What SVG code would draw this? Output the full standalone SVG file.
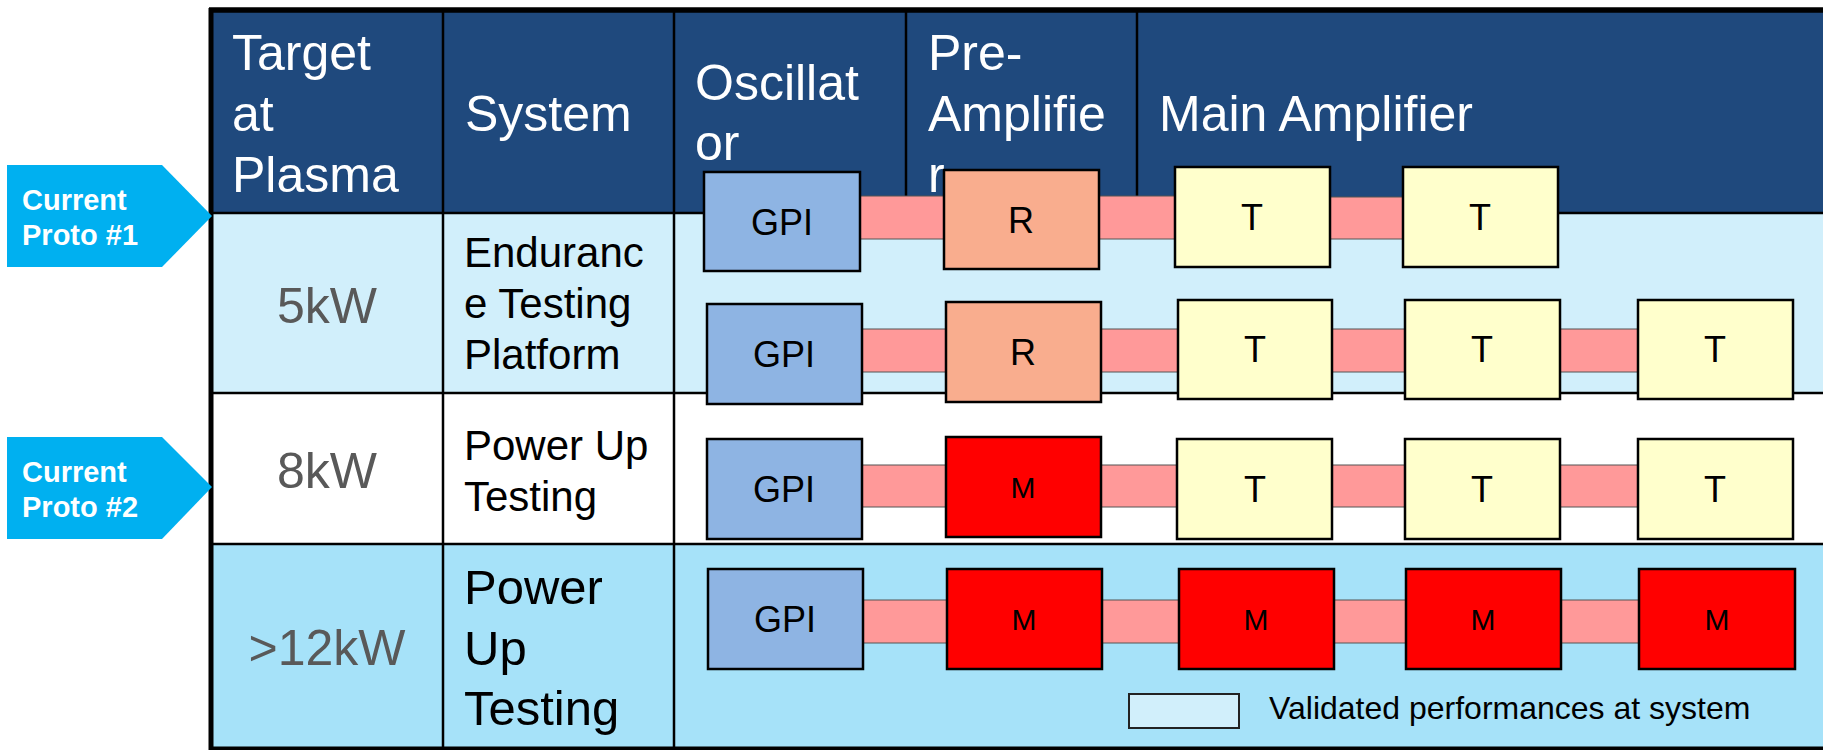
<svg xmlns="http://www.w3.org/2000/svg" width="1823" height="750" viewBox="0 0 1823 750">
<style>
text{font-family:"Liberation Sans",Arial,sans-serif}
.hd{fill:#fff;font-size:50px}
.kw{fill:#595959;font-size:50px;text-anchor:middle}
.sys{fill:#000;font-size:42px}
.sys3{fill:#000;font-size:49px}
.tag{fill:#fff;font-size:29px;font-weight:bold}
.bx{stroke:#000;stroke-width:2.5}
.bl{font-size:36px;fill:#000;text-anchor:middle}
.ml{font-size:30px;fill:#000;text-anchor:middle}
.gpi{fill:#8eb4e3}
.r{fill:#f9ad8e}
.t{fill:#ffffcc}
.m{fill:#ff0000}
.strip{fill:#ff9999;stroke:#555;stroke-width:1}
.grid{stroke:#000;stroke-width:2.5;fill:none}
.arrow{fill:#00b0f0}
</style>

<g id="table">
<rect x="211" y="10" width="1612" height="203" fill="#1f497d"/>
<rect x="211" y="213" width="1612" height="180" fill="#d1effb"/>
<rect x="211" y="393" width="1612" height="151" fill="#ffffff"/>
<rect x="211" y="544" width="1612" height="206" fill="#a6e2f9"/>
<line class="grid" x1="211" y1="213" x2="1823" y2="213"/>
<line class="grid" x1="211" y1="393" x2="1823" y2="393"/>
<line class="grid" x1="211" y1="544" x2="1823" y2="544"/>
<line class="grid" x1="443" y1="10" x2="443" y2="750"/>
<line class="grid" x1="674" y1="10" x2="674" y2="750"/>
<line class="grid" x1="906" y1="10" x2="906" y2="213"/>
<line class="grid" x1="1137" y1="10" x2="1137" y2="213"/>
<line x1="209" y1="10" x2="1823" y2="10" stroke="#000" stroke-width="5.5"/>
<line x1="211" y1="8" x2="211" y2="750" stroke="#000" stroke-width="5"/>
<line x1="209" y1="748.5" x2="1823" y2="748.5" stroke="#000" stroke-width="4"/>
<text class="hd" x="232" y="70">Target</text>
<text class="hd" x="232" y="131">at</text>
<text class="hd" x="232" y="192">Plasma</text>
<text class="hd" x="465" y="131">System</text>
<text class="hd" x="695" y="100">Oscillat</text>
<text class="hd" x="695" y="160">or</text>
<text class="hd" x="928" y="70">Pre-</text>
<text class="hd" x="928" y="131">Amplifie</text>
<text class="hd" x="928" y="192">r</text>
<text class="hd" x="1159" y="131">Main Amplifier</text>
<text class="kw" x="327" y="323">5kW</text>
<text class="kw" x="327" y="488">8kW</text>
<text class="kw" x="327" y="665">&gt;12kW</text>
<text class="sys" x="464" y="267">Enduranc</text>
<text class="sys" x="464" y="318">e Testing</text>
<text class="sys" x="464" y="369">Platform</text>
<text class="sys" x="464" y="460">Power Up</text>
<text class="sys" x="464" y="511">Testing</text>
<text class="sys3" x="464" y="604">Power</text>
<text class="sys3" x="464" y="665">Up</text>
<text class="sys3" x="464" y="725">Testing</text>
</g>

<g id="proto1">
<polygon class="arrow" points="7,165 162,165 212,216 162,267 7,267"/>
<text class="tag" x="22" y="210">Current</text>
<text class="tag" x="22" y="245">Proto #1</text>
</g>
<g id="proto2">
<polygon class="arrow" points="7,437 162,437 212,487 162,539 7,539"/>
<text class="tag" x="22" y="482">Current</text>
<text class="tag" x="22" y="517">Proto #2</text>
</g>

<g id="connectors">
<rect class="strip" x="858" y="196" width="88" height="43"/>
<rect class="strip" x="1097" y="196" width="80" height="43"/>
<rect class="strip" x="1328" y="197" width="77" height="42"/>
<rect class="strip" x="860" y="329" width="88" height="43"/>
<rect class="strip" x="1099" y="329" width="81" height="43"/>
<rect class="strip" x="1330" y="329" width="77" height="43"/>
<rect class="strip" x="1558" y="329" width="82" height="43"/>
<rect class="strip" x="860" y="465" width="88" height="42"/>
<rect class="strip" x="1099" y="465" width="80" height="42"/>
<rect class="strip" x="1330" y="465" width="77" height="42"/>
<rect class="strip" x="1558" y="465" width="82" height="42"/>
<rect class="strip" x="861" y="600" width="88" height="43"/>
<rect class="strip" x="1100" y="600" width="81" height="43"/>
<rect class="strip" x="1332" y="600" width="76" height="43"/>
<rect class="strip" x="1559" y="600" width="82" height="43"/>
</g>

<g id="rowA">
<g id="a-gpi"><rect class="bx gpi" x="704" y="172" width="156" height="99"/><text class="bl" x="782" y="235">GPI</text></g>
<g id="a-r"><rect class="bx r" x="944" y="170" width="155" height="99"/><text class="bl" x="1021" y="233">R</text></g>
<g id="a-t1"><rect class="bx t" x="1175" y="167" width="155" height="100"/><text class="bl" x="1252" y="230">T</text></g>
<g id="a-t2"><rect class="bx t" x="1403" y="167" width="155" height="100"/><text class="bl" x="1480" y="230">T</text></g>
</g>
<g id="rowB">
<g id="b-gpi"><rect class="bx gpi" x="707" y="304" width="155" height="100"/><text class="bl" x="784" y="367">GPI</text></g>
<g id="b-r"><rect class="bx r" x="946" y="302" width="155" height="100"/><text class="bl" x="1023" y="365">R</text></g>
<g id="b-t1"><rect class="bx t" x="1178" y="300" width="154" height="99"/><text class="bl" x="1255" y="362">T</text></g>
<g id="b-t2"><rect class="bx t" x="1405" y="300" width="155" height="99"/><text class="bl" x="1482" y="362">T</text></g>
<g id="b-t3"><rect class="bx t" x="1638" y="300" width="155" height="99"/><text class="bl" x="1715" y="362">T</text></g>
</g>
<g id="rowC">
<g id="c-gpi"><rect class="bx gpi" x="707" y="439" width="155" height="100"/><text class="bl" x="784" y="502">GPI</text></g>
<g id="c-m"><rect class="bx m" x="946" y="437" width="155" height="100"/><text class="ml" x="1023" y="498">M</text></g>
<g id="c-t1"><rect class="bx t" x="1177" y="439" width="155" height="100"/><text class="bl" x="1255" y="502">T</text></g>
<g id="c-t2"><rect class="bx t" x="1405" y="439" width="155" height="100"/><text class="bl" x="1482" y="502">T</text></g>
<g id="c-t3"><rect class="bx t" x="1638" y="439" width="155" height="100"/><text class="bl" x="1715" y="502">T</text></g>
</g>
<g id="rowD">
<g id="d-gpi"><rect class="bx gpi" x="708" y="569" width="155" height="100"/><text class="bl" x="785" y="632">GPI</text></g>
<g id="d-m1"><rect class="bx m" x="947" y="569" width="155" height="100"/><text class="ml" x="1024" y="630">M</text></g>
<g id="d-m2"><rect class="bx m" x="1179" y="569" width="155" height="100"/><text class="ml" x="1256" y="630">M</text></g>
<g id="d-m3"><rect class="bx m" x="1406" y="569" width="155" height="100"/><text class="ml" x="1483" y="630">M</text></g>
<g id="d-m4"><rect class="bx m" x="1639" y="569" width="156" height="100"/><text class="ml" x="1717" y="630">M</text></g>
</g>

<g id="legend">
<rect x="1129" y="694" width="110" height="34" fill="#d1effb" stroke="#222" stroke-width="2"/>
<text x="1269" y="719" font-size="32" fill="#000">Validated performances at system</text>
</g>
</svg>
